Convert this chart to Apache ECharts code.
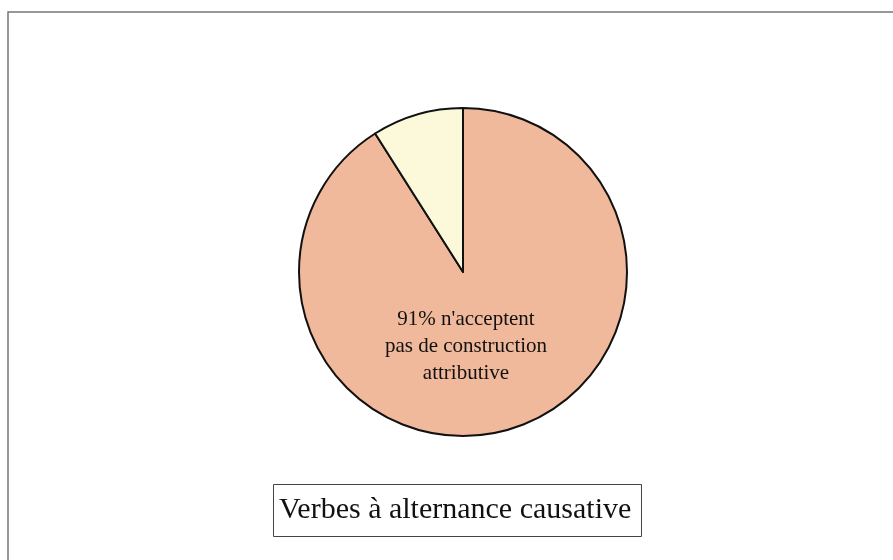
<!DOCTYPE html>
<html>
<head>
<meta charset="utf-8">
<script src="https://cdn.jsdelivr.net/npm/echarts@6/dist/echarts.min.js"></script>
<style>
  html, body { margin: 0; padding: 0; background: #fff; }
  #chart { width: 893px; height: 560px; }
</style>
</head>
<body>
<div id="chart"></div>
<script>
// données
const categories = ["n'acceptent pas de construction attributive", "acceptent une construction attributive"];
const values = [91, 9];
const colors = ["#f1b99b", "#fbf9da"];
const titleText = "Verbes à alternance causative";

let chart = echarts.init(document.getElementById("chart"));

const options = {
  backgroundColor: "#fff",
  animation: false,
  title: {
    text: titleText,
    left: 273,
    top: 484,
    borderWidth: 1,
    borderColor: "#444",
    padding: [11, 10, 12, 6],
    textStyle: {
      fontFamily: "Liberation Serif",
      fontWeight: "normal",
      fontSize: 30,
      color: "#111",
    },
  },
  graphic: [
    {
      type: "rect",
      shape: { x: 8, y: 12, width: 900, height: 560 },
      style: { fill: "none", stroke: "#777", lineWidth: 1.5 },
      silent: true,
    },
  ],
  series: [
    {
      type: "pie",
      center: [463, 272],
      radius: 164,
      startAngle: 90,
      clockwise: true,
      silent: true,
      itemStyle: { borderColor: "#111", borderWidth: 2 },
      labelLine: { show: false },
      data: categories.map((name, i) => ({
        name: name,
        value: values[i],
        itemStyle: { color: colors[i] },
        label: i === 0
          ? {
              show: true,
              position: "center",
              formatter: "{gap|}\n{t|{c}% n'acceptent}\n{t|pas de construction}\n{t|attributive}",
              rich: {
                gap: { height: 148 },
                t: {
                  fontFamily: "Liberation Serif",
                  fontSize: 21,
                  lineHeight: 27,
                  color: "#111",
                  padding: [0, 0, 0, 6],
                },
              },
            }
          : { show: false },
      })),
    },
  ],
};

chart.setOption(options);
</script>
</body>
</html>
